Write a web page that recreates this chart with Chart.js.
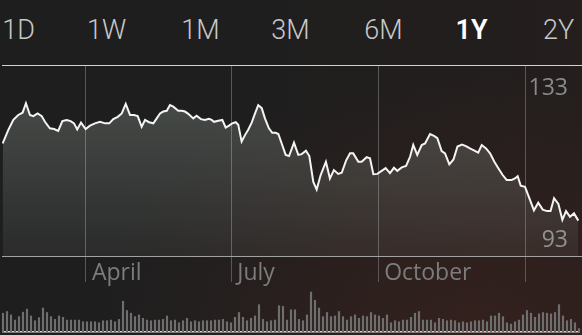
<!DOCTYPE html>
<html>
<head>
<meta charset="utf-8">
<script src="https://cdn.jsdelivr.net/npm/chart.js@4.4.1/dist/chart.umd.min.js"></script>
<style>
  html, body { margin: 0; padding: 0; width: 582px; height: 335px; overflow: hidden; }
  body {
    position: relative;
    font-family: Roboto, "Noto Sans", sans-serif;
    background:
      radial-gradient(ellipse 380px 260px at 470px 330px, rgba(72, 36, 30, 0.45), rgba(0, 0, 0, 0) 100%),
      linear-gradient(90deg, #1e1e1e 0%, #1f1e1e 45%, #241e1d 100%);
  }
  .period {
    position: absolute; top: 17px; line-height: 27px; font-size: 27px;
    font-weight: 300; color: #c8c8c8; transform: translateX(-50%); white-space: nowrap;
  }
  .period.sel { color: #ffffff; font-weight: 600; }
  #main { position: absolute; left: 0; top: 0; }
  #vol { position: absolute; left: 0; top: 285px; }
</style>
</head>
<body>
<div id="periods"></div>
<canvas id="main" width="582" height="335"></canvas>
<canvas id="vol" width="582" height="50"></canvas>
<script>
// ---------- data ----------
const periods = ['1D', '1W', '1M', '3M', '6M', '1Y', '2Y'];
const selectedPeriod = '1Y';

// day of year (1 Jan = 0 ... next 1 Jan = 365) for each sampled close
const priceDays = [
  37.8, 41.3, 44.5, 47.6, 50.3, 52.4, 54.9, 57.0, 59.7, 62.3,
  64.3, 67.4, 70.0, 72.6, 75.2, 77.9, 80.4, 82.5, 84.5, 86.9,
  89.8, 92.5, 95.6, 98.8, 101.9, 104.6, 107.1, 109.9, 112.4, 114.9,
  117.6, 120.1, 122.4, 124.9, 127.0, 129.5, 132.2, 134.3, 136.4, 138.4,
  140.6, 142.6, 144.7, 147.8, 150.0, 152.0, 154.1, 157.2, 159.3, 162.0,
  164.5, 167.0, 168.7, 170.2, 172.9, 175.4, 177.5, 179.6, 181.6, 183.8,
  185.4, 187.5, 189.6, 191.7, 193.8, 195.9, 197.9, 200.1, 202.1, 204.6,
  206.7, 208.8, 210.5, 212.6, 215.1, 217.2, 220.3, 223.0, 225.1, 227.8,
  229.9, 232.4, 234.5, 237.0, 240.3, 242.8, 245.3, 248.0, 250.2, 252.9,
  255.4, 257.4, 260.6, 262.7, 265.8, 267.9, 270.0, 272.5, 275.2, 277.7,
  280.4, 282.9, 285.0, 287.8, 290.5, 293.0, 295.0, 297.5, 300.3, 302.4,
  305.5, 308.0, 310.1, 312.8, 314.9, 317.6, 320.2, 322.7, 325.5, 328.0,
  330.5, 333.0, 335.7, 337.9, 340.6, 343.1, 345.8, 348.3, 351.0, 353.5,
  356.7, 358.7, 360.4, 362.3, 365.0, 367.7, 370.6, 373.3, 376.1, 378.8,
  381.0, 383.2, 385.9, 388.4, 390.7, 393.2, 395.7, 398.4
];
const prices = [
  118.4, 121.9, 124.6, 125.9, 126.5, 129.0, 125.9, 125.6, 126.3, 125.6,
  124.1, 122.4, 122.2, 121.7, 124.3, 124.6, 124.3, 123.7, 122.1, 123.9,
  122.2, 123.1, 123.7, 124.1, 123.7, 123.7, 124.8, 125.4, 126.3, 128.8,
  125.9, 125.9, 125.6, 122.8, 124.6, 124.0, 123.7, 125.0, 126.3, 126.8,
  127.0, 128.5, 128.1, 127.0, 127.0, 126.8, 126.2, 125.0, 125.7, 124.8,
  124.6, 124.9, 124.6, 124.1, 124.4, 124.6, 122.6, 123.1, 123.7, 124.0,
  123.3, 118.9, 120.6, 122.1, 123.9, 126.3, 128.5, 127.7, 125.0, 122.4,
  121.2, 121.2, 120.9, 118.4, 115.4, 115.1, 118.6, 115.4, 115.6, 116.5,
  115.1, 108.3, 106.3, 110.1, 113.6, 109.2, 111.4, 110.4, 110.7, 113.9,
  115.8, 115.8, 113.6, 113.6, 114.8, 114.5, 110.3, 110.4, 111.2, 111.9,
  110.6, 112.0, 111.2, 112.1, 112.5, 114.9, 118.0, 115.4, 118.0, 118.4,
  120.9, 120.4, 119.8, 116.4, 115.8, 112.9, 114.2, 117.6, 118.1, 117.7,
  117.1, 116.6, 116.0, 118.0, 117.1, 115.8, 113.6, 111.9, 110.1, 108.8,
  108.8, 109.2, 109.8, 107.3, 107.0, 104.0, 100.8, 102.8, 101.0, 100.6,
  100.6, 104.0, 102.5, 98.3, 100.6, 99.1, 100.0, 98.1
];

const monthTickDays = [90, 181, 273, 365];
const monthTickLabels = ['April', 'July', 'October', ''];
const priceTickValues = [93, 133];

// volume per sampled session (millions)
const volumes = [
  55, 60, 50, 35, 45, 58, 67, 47, 33, 42,
  70, 57, 45, 37, 47, 43, 35, 35, 35, 35,
  30, 30, 30, 30, 27, 33, 33, 35, 30, 37,
  90, 63, 55, 45, 50, 40, 35, 33, 35, 35,
  37, 47, 33, 35, 27, 33, 40, 30, 33, 30,
  33, 33, 33, 35, 35, 37, 30, 27, 43, 57,
  43, 33, 40, 47, 80, 37, 30, 33, 35, 77,
  75, 35, 65, 65, 37,
  33, 50, 117, 93, 70, 45, 57, 45, 47, 60,
  45, 35, 45, 50, 40, 47, 45, 57, 50, 47,
  40, 50, 27, 33, 30, 35, 35, 43, 55, 60,
  35, 35, 35, 27, 40, 37, 33, 35, 33, 27,
  30, 27, 30, 33, 33, 35, 30, 47, 47, 55,
  45, 27, 23, 30, 35, 50, 63, 55, 43, 53,
  57, 55, 53, 57, 80, 47, 33, 37, 27, 10
];

// ---------- layout ----------
const periodCenters = [18.5, 106.5, 200.5, 290.5, 383.5, 471.5, 558.5];
const periodsEl = document.getElementById('periods');
periods.forEach((p, i) => {
  const s = document.createElement('span');
  s.className = 'period' + (p === selectedPeriod ? ' sel' : '');
  s.textContent = p;
  s.style.left = periodCenters[i] + 'px';
  periodsEl.appendChild(s);
});

const Y_MIN = 81.95, Y_MAX = 139.05, Y_BASE = 88.79;
const X_MIN = 37.4, X_MAX = 400.7;

new Chart(document.getElementById('main'), {
  type: 'line',
  data: {
    datasets: [{
      data: priceDays.map((d, i) => ({ x: d, y: prices[i] })),
      borderColor: '#f4f4f4',
      borderWidth: 2,
      pointRadius: 0,
      tension: 0,
      fill: { value: Y_BASE },
      backgroundColor: (ctx) => {
        const chart = ctx.chart;
        if (!chart.chartArea) return 'rgba(255,255,255,0.12)';
        const ys = chart.scales.y;
        const g = chart.ctx.createLinearGradient(0, ys.getPixelForValue(130), 0, ys.getPixelForValue(Y_BASE));
        g.addColorStop(0, 'rgba(235,255,240,0.20)');
        g.addColorStop(1, 'rgba(235,255,240,0.06)');
        return g;
      }
    }]
  },
  options: {
    responsive: false,
    animation: false,
    events: [],
    layout: { padding: { top: 65, left: 2, right: 0, bottom: 53 } },
    plugins: { legend: { display: false }, tooltip: { enabled: false } },
    scales: {
      x: {
        type: 'linear', min: X_MIN, max: X_MAX,
        afterBuildTicks: (s) => { s.ticks = monthTickDays.map(v => ({ value: v })); },
        afterFit: (s) => { s.height = 0; },
        grid: { color: '#585858', lineWidth: 1, drawTicks: false },
        border: { display: false },
        ticks: {
          mirror: true,
          autoSkip: false, maxRotation: 0, minRotation: 0, align: 'start',
          labelOffset: 6, padding: -5, color: '#7c7c7c',
          font: { family: 'Open Sans', size: 23 },
          callback: (v) => { const i = monthTickDays.indexOf(v); return i >= 0 ? monthTickLabels[i] : ''; }
        }
      },
      y: {
        type: 'linear', position: 'right', min: Y_MIN, max: Y_MAX,
        afterBuildTicks: (s) => { s.ticks = [Y_MIN, Y_BASE, ...priceTickValues, Y_MAX].map(v => ({ value: v })); },
        afterFit: (s) => { s.width = 0; },
        grid: {
          drawTicks: false, lineWidth: 1,
          color: (c) => {
            if (!c.tick) return 'rgba(0,0,0,0)';
            if (c.tick.value === Y_MAX) return '#d2d2d2';
            if (c.tick.value === Y_BASE) return '#a2a2a2';
            return 'rgba(0,0,0,0)';
          }
        },
        border: { display: false },
        ticks: {
          mirror: true, crossAlign: 'near', padding: -14, color: '#8a8a8a',
          font: { family: 'Open Sans', size: 23 },
          callback: (v) => priceTickValues.includes(v) ? String(v) : ''
        }
      }
    }
  }
});

new Chart(document.getElementById('vol'), {
  type: 'bar',
  data: {
    labels: volumes.map((_, i) => i),
    datasets: [{ data: volumes, backgroundColor: '#6e6e6e', barThickness: 1.5, clip: false }]
  },
  options: {
    responsive: false,
    animation: false,
    events: [],
    layout: { padding: { top: 5, left: 3, right: 3, bottom: 3 } },
    plugins: { legend: { display: false }, tooltip: { enabled: false } },
    scales: {
      x: {
        offset: false,
        ticks: { display: false },
        grid: { display: false, drawTicks: false },
        border: { display: true, color: '#d8d8d8', width: 1.5 }
      },
      y: { display: false, min: 0, max: 123 }
    }
  }
});
</script>
</body>
</html>
